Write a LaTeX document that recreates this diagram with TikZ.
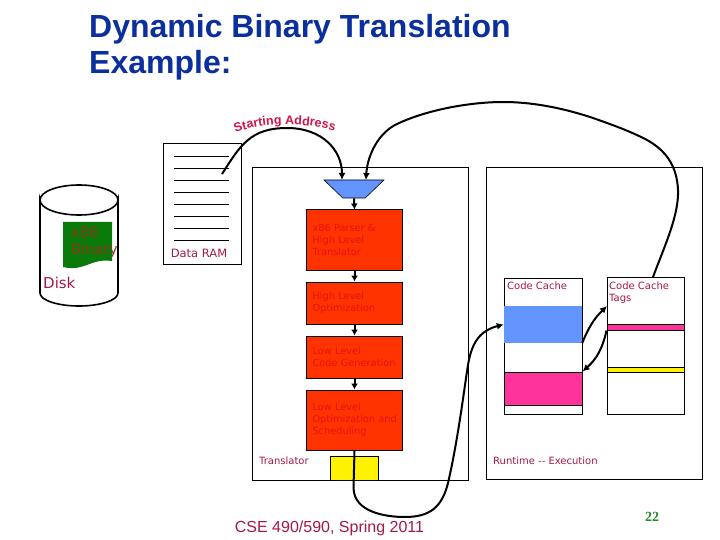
\documentclass[tikz,border=0pt]{standalone}
\usepackage{fontspec}
\usepackage{xcolor}
\usetikzlibrary{shapes.geometric}
\usetikzlibrary{arrows.meta}
\usetikzlibrary{decorations.text}
\setmainfont{DejaVu Sans}
\newfontfamily\arialfont{Liberation Sans}
\newfontfamily\timesfont{Liberation Serif}
\definecolor{labelred}{HTML}{A5174A}
\definecolor{titleblue}{HTML}{0B2F9C}
\definecolor{passred}{HTML}{FF3300}
\definecolor{passtext}{HTML}{E8100F}
\definecolor{cacheblue}{HTML}{6495FF}
\definecolor{cachepink}{HTML}{FF3399}
\definecolor{docgreen}{HTML}{0A7A0A}
\definecolor{pagegreen}{HTML}{228B22}
\definecolor{binbrown}{HTML}{8A3A1A}
\definecolor{arcred}{HTML}{D0144A}
\begin{document}
\begin{tikzpicture}[
  x=1pt,y=-1pt,
  every node/.style={inner sep=0pt,font=\fontsize{10}{12}\selectfont,text=labelred},
  frame/.style={draw,line width=1pt,minimum width=#1},
  pass/.style={frame=95.6,fill=passred,text=passtext,align=left,text width=84pt,inner sep=0pt,
    font=\fontsize{9.8}{12}\selectfont,minimum height=#1},
  band/.style={draw,line width=1pt,minimum width=77pt,minimum height=#1},
  label/.style={anchor=west,align=left},
  wire/.style={line width=2pt,-{Latex[length=7pt,width=7pt]}},
  link/.style={line width=2pt,-{Latex[length=6pt,width=7pt]}}]
\useasboundingbox (0,0) rectangle (720,540);
% title
\node[anchor=base west,align=left,text=titleblue,
  font=\arialfont\bfseries\fontsize{32}{36}\selectfont] (title) at (89,74) {Dynamic Binary Translation\\Example:};
% disk
\draw[line width=1.6pt] (40,200) arc (180:0:39 and 15) -- (118,293) arc (0:180:39 and 13) -- cycle;
\draw[line width=1.6pt] (40,200) arc (180:360:39 and 15);
\fill[docgreen] (63,222) -- (112,222) -- (112,261) .. controls (90,258) and (85,272) .. (63,267) -- cycle;
\node[label,text=binbrown,font=\fontsize{14.5}{17}\selectfont] (binary) at (71,242) {x86\\Binary};
\node[label,font=\fontsize{15}{18}\selectfont] (disk) at (43,283) {Disk};
% data ram
\node[frame=78,minimum height=120] (ram) at (202,204) {};
\foreach \y in {156,168,...,240}
  \draw[line width=.8pt] (174,\y) -- (229,\y);
\node[font=\fontsize{11.5}{14}\selectfont] (ramlabel) at (199,253.5) {Data RAM};
% translator
\node[frame=216,minimum height=312] (translator) at (360.5,324) {};
\node[trapezium,draw,line width=.6pt,fill=cacheblue,shape border rotate=180,trapezium stretches=true,
  inner sep=1pt,trapezium angle=50,minimum width=60,minimum height=18] (mux) at (354,189) {};
\node[pass=60] (parser) at (354.5,240) {x86 Parser \&\\High Level\\Translator};
\node[pass=42] (highopt) at (354.5,303) {High Level\\Optimization};
\node[pass=42] (codegen) at (354.5,357) {Low Level\\Code Generation};
\node[pass=60] (sched) at (354.5,420) {Low Level\\Optimization~and\\Scheduling};
\node[frame=48,minimum height=24,fill=yellow] (output) at (354.5,468) {};
\node[label] (translabel) at (259,460.5) {Translator};
% runtime
\node[frame=216,minimum height=311] (runtime) at (594,323.5) {};
\node[label] (runlabel) at (493,460.5) {Runtime -{}- Execution};
\node[frame=78,minimum height=136] (cache) at (543,346) {};
\node[fill=cacheblue,minimum width=78,minimum height=37] (cacheb) at (543,324.5) {};
\node[band=33,minimum width=78,fill=cachepink] (cachep) at (543,388.5) {};
\node[label] (cachelabel) at (507,285.5) {Code Cache};
\node[frame=77,minimum height=137] (tags) at (645.5,345.5) {};
\node[band=6,fill=cachepink] (tagp) at (645.5,327) {};
\node[band=5,fill=yellow] (tagy) at (645.5,369.5) {};
\node[label] (tagslabel) at (609,292.5) {Code Cache\\Tags};
% connectors
\coordinate (addrout) at (222,174);
\coordinate (addrin) at (342,180);
\coordinate (tagout) at (653,277);
\coordinate (tagin) at (366,180);
\coordinate (hitin) at (607,306);
\path[decorate,decoration={text along path,text align=center,
  text={|\arialfont\bfseries\fontsize{12.5}{12.5}\selectfont\color{arcred}|Starting Address}}]
  (235,133) .. controls (262,122) and (305,122) .. (335,131);
\draw[wire] (addrout) .. controls (240,146) and (250,128) .. (287,128)
  .. controls (322,128) and (342,150) .. (addrin);
\draw[wire] (tagout) .. controls (665,245) and (679,215) .. (678,190)
  .. controls (677,165) and (665,150) .. (647,140) .. controls (630,131) and (610,124) .. (593,118)
  .. controls (560,107) and (530,102) .. (503,102)
  .. controls (470,102) and (425,110) .. (395,125) .. controls (375,136) and (367,160) .. (tagin);
\draw[line width=2pt] (sched.south) -- (353.5,488);
\draw[wire] (353.5,488) .. controls (354,512) and (385,517) .. (405,517)
  .. controls (430,517) and (442,507) .. (448,483) .. controls (458,440) and (464,390) .. (468,365)
  .. controls (472,340) and (482,330) .. (cacheb.west);
\draw[link] (mux.south) -- (parser.north);
\draw[link] (parser.south) -- (highopt.north);
\draw[link] (highopt.south) -- (codegen.north);
\draw[link] (codegen.south) -- (sched.north);
\draw[wire] (cacheb.south east) to[bend left=12] (hitin);
\draw[wire] (tagp.south west) to[bend left=18] (cachep.north east);
% footer
\node[font=\arialfont\fontsize{16}{19}\selectfont] (footer) at (329.5,528) {CSE 490/590, Spring 2011};
\node[text=pagegreen,font=\timesfont\bfseries\fontsize{14}{16}\selectfont] (page) at (652,517) {22};
\end{tikzpicture}
\end{document}
